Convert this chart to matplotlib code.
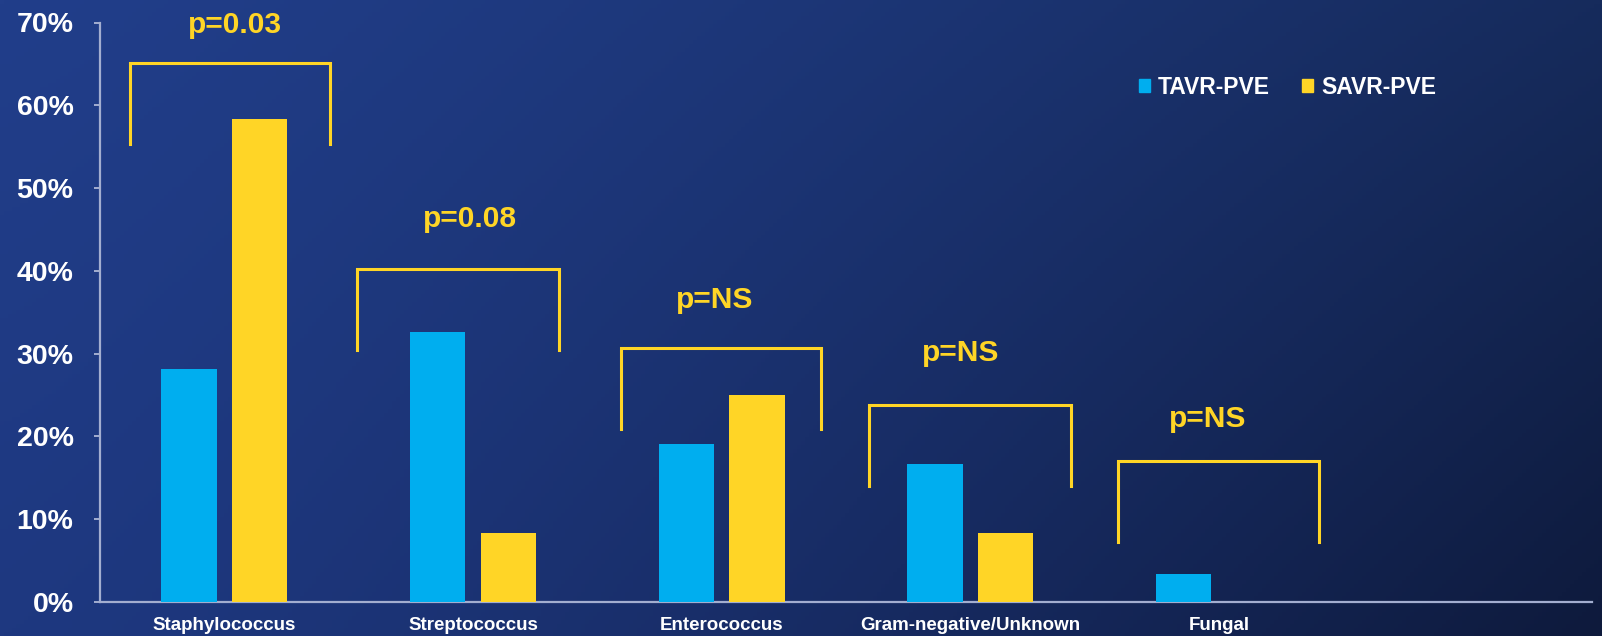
import numpy as np
import matplotlib
matplotlib.use("Agg")
import matplotlib.pyplot as plt
from matplotlib.patches import Patch

# data
categories = ["Staphylococcus", "Streptococcus", "Enterococcus",
              "Gram-negative/Unknown", "Fungal", ""]
tavr = [28.1, 32.6, 19.1, 16.7, 3.4, 0]
savr = [58.3, 8.3, 25.0, 8.3, 0, 0]
series_names = ["TAVR-PVE", "SAVR-PVE"]

p_labels = ["p=0.03", "p=0.08", "p=NS", "p=NS", "p=NS"]
bracket_left = [-0.38, 0.532, 1.594, 2.594, 3.592]
bracket_right = [0.425, 1.345, 2.398, 3.403, 4.402]
bracket_top = [65.1, 40.2, 30.7, 23.8, 17.0]
bracket_bottom = [55.3, 30.5, 20.9, 14.0, 7.2]
p_x = [0.043, 0.988, 1.973, 2.96, 3.954]
p_y = [68.7, 45.3, 35.5, 29.1, 21.1]

BLUE = "#00AEEF"
YELLOW = "#FFD526"
AXIS_C = "#A3AED0"

W, H = 1602, 636
fig = plt.figure(figsize=(W / 100, H / 100), dpi=100)

# gradient background
bg = fig.add_axes([0, 0, 1, 1])
bg.set_axis_off()
gx = np.linspace(0, 1, 400)[None, :]
gy = np.linspace(0, 1, 160)[:, None]
tl = np.array([33, 62, 138]) / 255
tr = np.array([22, 43, 92]) / 255
bl = np.array([30, 56, 128]) / 255
br = np.array([14, 26, 60]) / 255
sx = gx ** 1.3
img = ((1 - gy)[..., None] * ((1 - sx)[..., None] * tl + sx[..., None] * tr)
       + gy[..., None] * ((1 - sx)[..., None] * bl + sx[..., None] * br))
bg.imshow(img, aspect="auto", extent=[0, 1, 0, 1], origin="upper")

ax = fig.add_axes([100 / W, 34 / H, 1492 / W, (602 - 22.5) / H])
ax.set_facecolor("none")

x = np.arange(len(categories))
width = 0.222
off = 0.142
ax.bar(x - off, tavr, width, color=BLUE, zorder=3)
ax.bar(x + off, savr, width, color=YELLOW, zorder=3)

ax.set_xlim(-0.5, len(categories) - 0.5)
ax.set_ylim(0, 70)
ax.set_yticks(np.arange(0, 71, 10))
ax.set_yticklabels(["%d%%" % v for v in range(0, 71, 10)])
ax.set_xticks(x)
ax.set_xticklabels(categories)

for s in ["top", "right"]:
    ax.spines[s].set_visible(False)
for s in ["left", "bottom"]:
    ax.spines[s].set_color(AXIS_C)
    ax.spines[s].set_linewidth(1.6)

ax.tick_params(axis="y", colors=AXIS_C, length=4, width=1.4, pad=15,
               labelcolor="white", labelsize=20.5)
ax.tick_params(axis="x", length=0, pad=11, labelcolor="white", labelsize=13.5)
for lab in ax.get_yticklabels() + ax.get_xticklabels():
    lab.set_fontfamily("Liberation Sans")
    lab.set_fontweight("bold")

# significance brackets
for i in range(len(p_labels)):
    ax.plot([bracket_left[i], bracket_left[i], bracket_right[i], bracket_right[i]],
            [bracket_bottom[i], bracket_top[i], bracket_top[i], bracket_bottom[i]],
            color=YELLOW, lw=2.2, solid_joinstyle="miter", zorder=4, clip_on=False)
    ax.text(p_x[i], p_y[i], p_labels[i], color=YELLOW, fontsize=21.5,
            fontweight="bold", family="Liberation Sans",
            ha="center", va="baseline", clip_on=False)

handles = [Patch(color=BLUE), Patch(color=YELLOW)]
leg = fig.legend(handles, series_names, loc="center left",
                 bbox_to_anchor=(1139 / W, 1 - 87 / H), ncol=2, frameon=False,
                 borderpad=0, borderaxespad=0, handlelength=0.48, handleheight=0.48,
                 handletextpad=0.35, columnspacing=1.4,
                 prop={"family": "Liberation Sans", "weight": "bold", "size": 16.5})
for t in leg.get_texts():
    t.set_color("white")

fig.savefig("out.png", dpi=100)
